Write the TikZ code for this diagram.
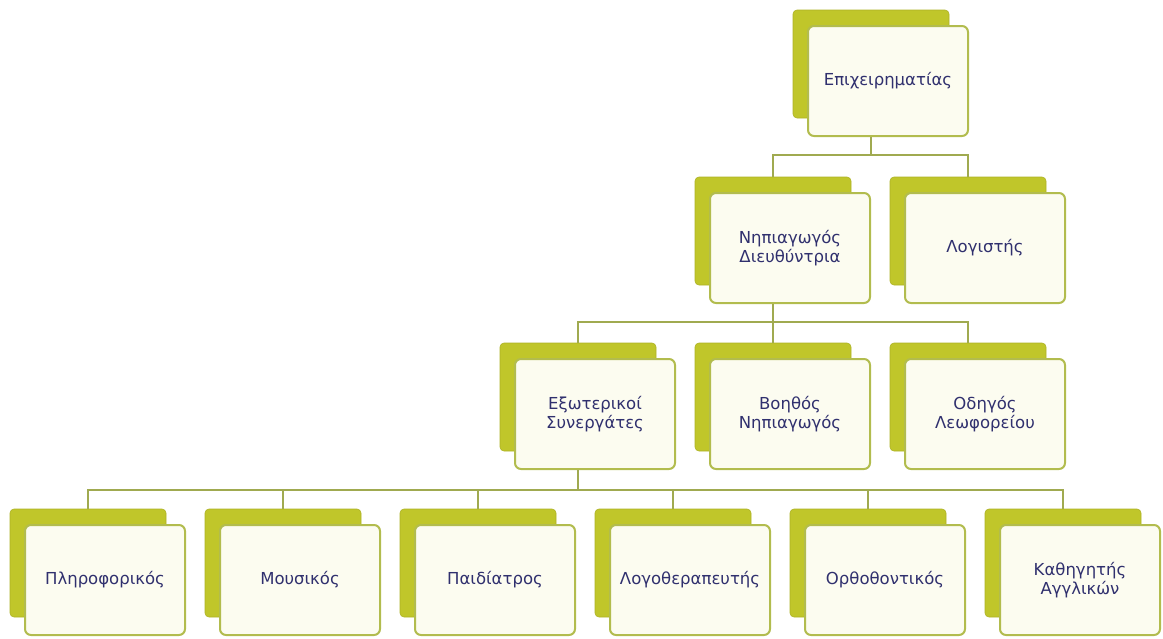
\documentclass[tikz,border=0pt]{standalone}
\usepackage{fontspec}
\setmainfont{DejaVu Sans}
\definecolor{backfill}{RGB}{192,198,42}
\definecolor{frontfill}{RGB}{252,252,240}
\definecolor{frontline}{RGB}{178,188,78}
\definecolor{connline}{RGB}{160,170,80}
\definecolor{txt}{RGB}{48,48,110}
\begin{document}
\begin{tikzpicture}[x=1pt,y=-1pt,
  backbox/.style={draw=backfill!90!black, line width=0.6pt, fill=backfill, rounded corners=4pt, minimum width=156pt, minimum height=108pt, inner sep=0pt},
  frontbox/.style={draw=frontline, line width=2pt, fill=frontfill, rounded corners=6pt, minimum width=160pt, minimum height=110pt, inner sep=0pt, align=center, text=txt, font=\fontsize{16.5}{19}\selectfont},
  conn/.style={draw=connline, line width=2pt}]
\useasboundingbox (0,0) rectangle (1163,638);
% helper: back at (x+78,y+54), front at (x+95,y+71)
\newcommand{\orgnode}[4]{%
  \node[backbox] (#1b) at (#2+78,#3+54) {};
  \node[frontbox] (#1) at (#2+95,#3+71) {#4};
}
\orgnode{ceo}{793}{10}{Επιχειρηματίας}
\orgnode{dir}{695}{177}{Νηπιαγωγός\\Διευθύντρια}
\orgnode{acc}{890}{177}{Λογιστής}
\orgnode{ext}{500}{343}{Εξωτερικοί\\Συνεργάτες}
\orgnode{ast}{695}{343}{Βοηθός\\Νηπιαγωγός}
\orgnode{drv}{890}{343}{Οδηγός\\Λεωφορείου}
\orgnode{it}{10}{509}{Πληροφορικός}
\orgnode{mus}{205}{509}{Μουσικός}
\orgnode{ped}{400}{509}{Παιδίατρος}
\orgnode{spe}{595}{509}{Λογοθεραπευτής}
\orgnode{ort}{790}{509}{Ορθοθοντικός}
\orgnode{eng}{985}{509}{Καθηγητής\\Αγγλικών}
\coordinate (bar1) at (0,155);
\coordinate (bar2) at (0,322);
\coordinate (bar3) at (0,490);
% connectors
\foreach \c in {dir,acc}{
  \draw[conn] (ceob.north |- ceo.south) -- (ceob.north |- bar1) -| (\c b.north);
}
\foreach \c in {ext,ast,drv}{
  \draw[conn] (dirb.north |- dir.south) -- (dirb.north |- bar2) -| (\c b.north);
}
\foreach \c in {it,mus,ped,spe,ort,eng}{
  \draw[conn] (extb.north |- ext.south) -- (extb.north |- bar3) -| (\c b.north);
}
\end{tikzpicture}
\end{document}
